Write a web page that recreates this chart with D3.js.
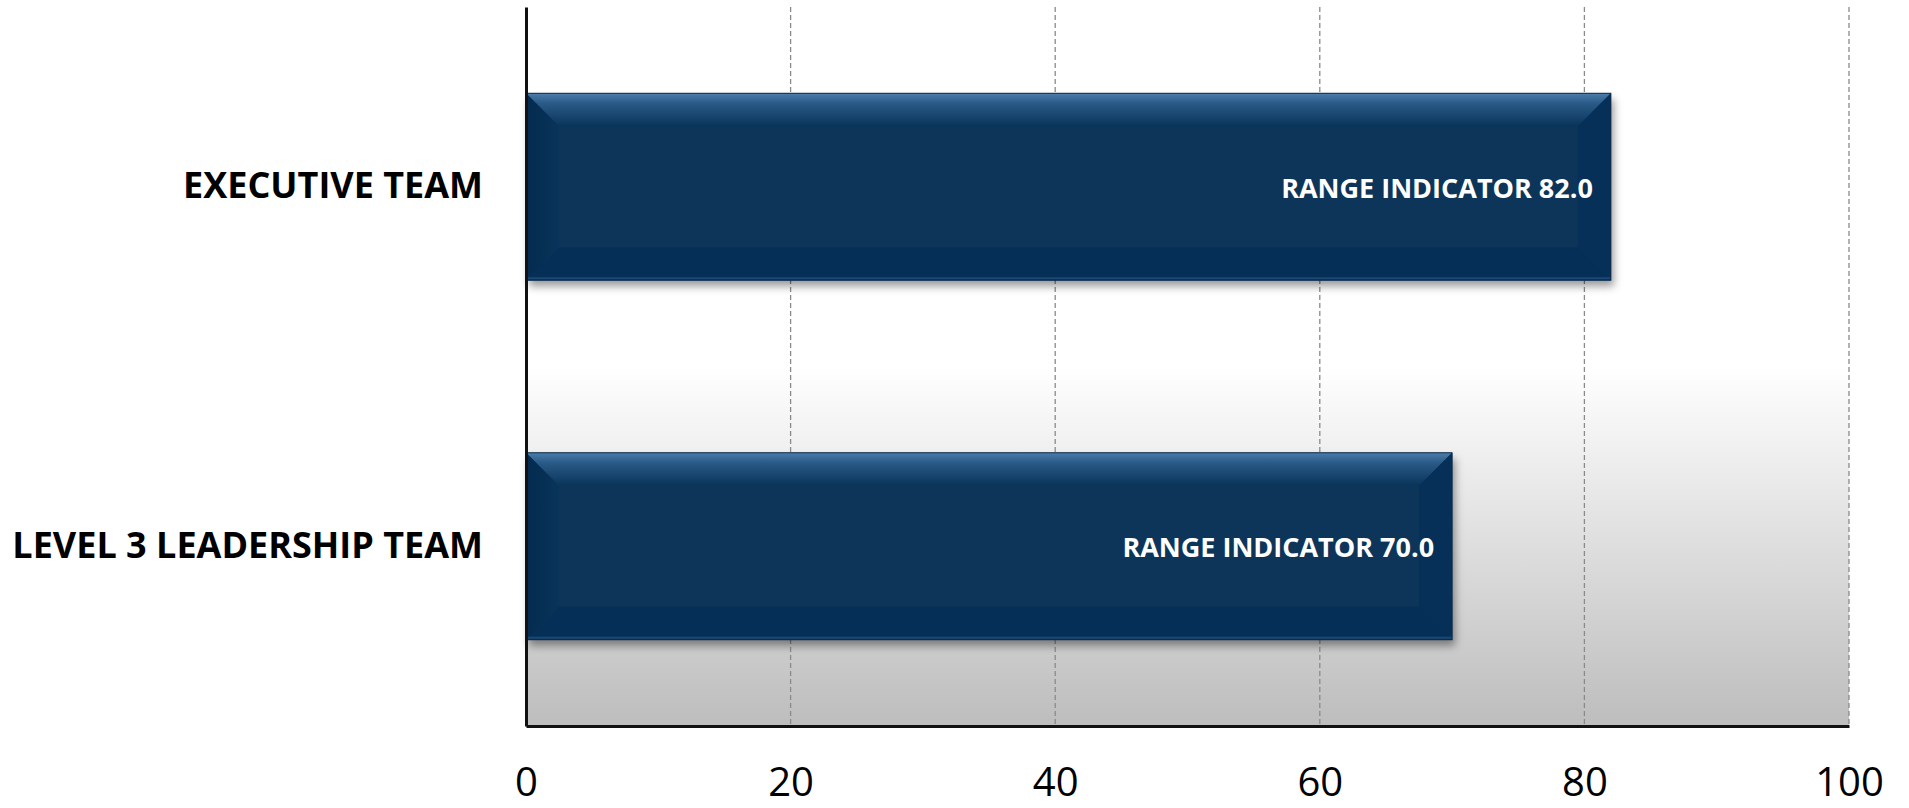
<!DOCTYPE html>
<html>
<head>
<meta charset="utf-8">
<script src="https://cdn.jsdelivr.net/npm/d3@7"></script>
<style>
  html, body { margin: 0; padding: 0; background: #fff; }
  svg { display: block; }
</style>
</head>
<body>
<div id="chart"></div>
<script>
const categories = ["EXECUTIVE TEAM", "LEVEL 3 LEADERSHIP TEAM"];
const values = [82.0, 70.0];
const barPrefix = "RANGE INDICATOR";
const tickValues = [0, 20, 40, 60, 80, 100];

const width = 1909;
const height = 808;
const margin = { top: 7, left: 526, bottom: 82, right: 60 };
const bevel = 33;

const data = categories.map((c, i) => ({ name: c, value: values[i] }));

const svg = d3
  .select("#chart")
  .append("svg")
  .attr("width", width)
  .attr("height", height);

const defs = svg.append("defs");

// plot background: white fading to grey in the lower half
const bg = defs.append("linearGradient")
  .attr("id", "bgGrad").attr("x1", 0).attr("y1", 0).attr("x2", 0).attr("y2", 1);
bg.append("stop").attr("offset", "0.5").attr("stop-color", "#ffffff");
bg.append("stop").attr("offset", "1").attr("stop-color", "#bdbdbd");

const topG = defs.append("linearGradient")
  .attr("id", "topGrad").attr("x1", 0).attr("y1", 0).attr("x2", 0).attr("y2", 1);
topG.append("stop").attr("offset", "0").attr("stop-color", "#4c7daa");
topG.append("stop").attr("offset", "0.3").attr("stop-color", "#2a5a87");
topG.append("stop").attr("offset", "1").attr("stop-color", "#09345a");

const leftG = defs.append("linearGradient")
  .attr("id", "leftGrad").attr("x1", 0).attr("y1", 0).attr("x2", 1).attr("y2", 0);
leftG.append("stop").attr("offset", "0").attr("stop-color", "#042a4f");
leftG.append("stop").attr("offset", "1").attr("stop-color", "#09345a");

const shadow = defs.append("filter")
  .attr("id", "shadow").attr("x", "-10%").attr("y", "-10%")
  .attr("width", "130%").attr("height", "130%");
shadow.append("feDropShadow")
  .attr("dx", 3).attr("dy", 6).attr("stdDeviation", 4)
  .attr("flood-color", "#000").attr("flood-opacity", 0.4);

const x = d3
  .scaleLinear()
  .domain([0, 100])
  .range([margin.left, width - margin.right]);

const y = d3
  .scaleBand()
  .domain(categories)
  .range([margin.top, height - margin.bottom])
  .paddingInner(0.48)
  .paddingOuter(0.24);

svg.append("rect")
  .attr("x", x(0))
  .attr("y", margin.top)
  .attr("width", x(100) - x(0))
  .attr("height", height - margin.bottom - margin.top)
  .attr("fill", "url(#bgGrad)");

// dashed vertical gridlines
svg.append("g")
  .selectAll("line")
  .data(tickValues.filter((t) => t > 0))
  .enter()
  .append("line")
  .attr("x1", (d) => x(d))
  .attr("x2", (d) => x(d))
  .attr("y1", margin.top)
  .attr("y2", height - margin.bottom)
  .attr("stroke", "#8a8a8a")
  .attr("stroke-width", 1.3)
  .attr("stroke-dasharray", "5,3");

const bars = svg.selectAll(".bar").data(data).enter().append("g").attr("class", "bar");

bars.each(function (d) {
  const g = d3.select(this);
  const x0 = x(0), x1 = x(d.value);
  const y0 = y(d.name), y1 = y0 + y.bandwidth();
  const b = bevel;

  g.append("rect")
    .attr("x", x0).attr("y", y0)
    .attr("width", x1 - x0).attr("height", y1 - y0)
    .attr("fill", "#09345a")
    .attr("filter", "url(#shadow)");

  // bottom bevel
  g.append("polygon")
    .attr("points", [[x0, y1], [x0 + b, y1 - b], [x1 - b, y1 - b], [x1, y1]].join(" "))
    .attr("fill", "#052f57");
  // top bevel
  g.append("polygon")
    .attr("points", [[x0, y0], [x1, y0], [x1 - b, y0 + b], [x0 + b, y0 + b]].join(" "))
    .attr("fill", "url(#topGrad)");
  // left bevel
  g.append("polygon")
    .attr("points", [[x0, y0], [x0 + b, y0 + b], [x0 + b, y1 - b], [x0, y1]].join(" "))
    .attr("fill", "url(#leftGrad)");
  // right bevel
  g.append("polygon")
    .attr("points", [[x1, y0], [x1, y1], [x1 - b, y1 - b], [x1 - b, y0 + b]].join(" "))
    .attr("fill", "#063058");

  g.append("line")
    .attr("x1", x0).attr("x2", x1)
    .attr("y1", y1 - 2).attr("y2", y1 - 2)
    .attr("stroke", "#1a4874").attr("stroke-width", 2);

  g.append("rect")
    .attr("x", x0).attr("y", y0)
    .attr("width", x1 - x0).attr("height", y1 - y0)
    .attr("fill", "none")
    .attr("stroke", "#0c2b49")
    .attr("stroke-width", 1);

  g.append("text")
    .attr("x", x1 - 18)
    .attr("y", y0 + y.bandwidth() / 2)
    .attr("dy", "0.4em")
    .attr("text-anchor", "end")
    .style("font-family", "'Open Sans', sans-serif")
    .style("font-weight", "bold")
    .style("font-size", "27px")
    .style("fill", "#ffffff")
    .text(`${barPrefix} ${d.value.toFixed(1)}`);
});

const xAxis = svg.append("g")
  .attr("transform", `translate(0, ${height - margin.bottom})`)
  .call(d3.axisBottom(x).tickValues(tickValues).tickSize(0).tickPadding(42));
xAxis.select(".domain").attr("stroke", "#111").attr("stroke-width", 3);
xAxis.selectAll("text")
  .style("font-family", "'Open Sans', sans-serif")
  .style("font-size", "40px")
  .style("fill", "#000");

const yAxis = svg.append("g")
  .attr("transform", `translate(${margin.left}, 0)`)
  .call(d3.axisLeft(y).tickSize(0).tickPadding(43));
yAxis.select(".domain").attr("stroke", "#111").attr("stroke-width", 3);
yAxis.selectAll("text")
  .style("font-family", "'Open Sans', sans-serif")
  .style("font-weight", "bold")
  .style("font-size", "36px")
  .style("fill", "#000");
</script>
</body>
</html>
